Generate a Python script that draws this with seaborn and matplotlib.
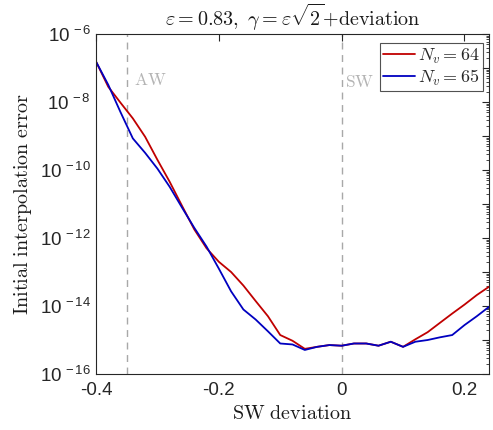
import numpy as np
import pandas as pd
import matplotlib
matplotlib.use("Agg")
import matplotlib.pyplot as plt
import seaborn as sns
from matplotlib.ticker import FixedLocator, NullFormatter
from matplotlib.lines import Line2D

sns.set_theme(style="white")
plt.rcParams["font.family"] = ["Liberation Sans", "DejaVu Sans"]
plt.rcParams["mathtext.fontset"] = "custom"
plt.rcParams["mathtext.rm"] = "Liberation Sans"
plt.rcParams["mathtext.it"] = "Liberation Sans:italic"

# SW deviation samples
deviation = [-0.40, -0.38, -0.36, -0.34, -0.32, -0.30, -0.28, -0.26, -0.24,
             -0.22, -0.20, -0.18, -0.16, -0.14, -0.12, -0.10, -0.08, -0.06,
             -0.04, -0.02, 0.00, 0.02, 0.04, 0.06, 0.08, 0.10, 0.12, 0.14,
             0.16, 0.18, 0.20, 0.22, 0.24]

# initial interpolation error, N_v = 64
err_64 = [1.55e-7, 2.8e-8, 9.5e-9, 3.3e-9, 9.5e-10, 2.0e-10, 4.5e-11, 8.9e-12,
          1.8e-12, 5.0e-13, 2.0e-13, 1.0e-13, 4.0e-14, 1.4e-14, 5.0e-15,
          1.4e-15, 9.5e-16, 5.5e-16, 6.3e-16, 7.1e-16, 6.8e-16, 7.9e-16,
          7.9e-16, 6.8e-16, 8.9e-16, 6.3e-16, 1.05e-15, 1.7e-15, 3.2e-15,
          6.0e-15, 1.1e-14, 2.1e-14, 3.7e-14]

# initial interpolation error, N_v = 65
err_65 = [1.55e-7, 3.2e-8, 5.0e-9, 8.5e-10, 3.2e-10, 1.1e-10, 3.2e-11, 7.9e-12,
          2.0e-12, 5.6e-13, 1.26e-13, 2.7e-14, 7.9e-15, 4.0e-15, 1.8e-15,
          7.9e-16, 7.4e-16, 5.1e-16, 6.3e-16, 7.1e-16, 6.8e-16, 7.9e-16,
          7.9e-16, 6.8e-16, 8.9e-16, 6.3e-16, 8.9e-16, 1.0e-15, 1.2e-15,
          1.4e-15, 2.75e-15, 5.0e-15, 9.5e-15]

series_labels = [r"$N_v = 64$", r"$N_v = 65$"]
series_colors = ["#c00000", "#0000c0"]

x_ticks = [-0.4, -0.2, 0.0, 0.2]
x_tick_labels = ["-0.4", "-0.2", "0", "0.2"]
y_exponents = [-16, -14, -12, -10, -8, -6]

aw_x = -0.35
sw_x = 0.0

df = pd.DataFrame({
    "SW deviation": deviation * 2,
    "error": err_64 + err_65,
    "case": [series_labels[0]] * len(deviation) + [series_labels[1]] * len(deviation),
})

axis_color = "#262626"
fig = plt.figure(figsize=(4.93, 4.30), dpi=100)
ax = fig.add_axes([0.1947, 0.1302, 0.7973, 0.7907])

sns.lineplot(data=df, x="SW deviation", y="error", hue="case",
             palette=series_colors, linewidth=1.3, ax=ax, legend=False)
ax.set_yscale("log")
ax.set_xlim(-0.4, 0.24)
ax.set_ylim(1e-16, 1e-6)

guide = "#a8a8a8"
for xv in (aw_x, sw_x):
    ax.axvline(xv, color=guide, linestyle=(0, (5, 4)), linewidth=1.0, zorder=0)

ax.text(aw_x + 0.012, 10 ** -7.34, r"$\mathrm{AW}$", color="#b4b4b4",
        fontsize=12.5, math_fontfamily="cm", ha="left", va="center")
ax.text(sw_x + 0.006, 10 ** -7.4, r"$\mathrm{SW}$", color="#b4b4b4",
        fontsize=12.5, math_fontfamily="cm", ha="left", va="center")

# ticks
ax.xaxis.set_major_locator(FixedLocator(x_ticks))
ax.set_xticklabels(x_tick_labels)
ax.yaxis.set_major_locator(FixedLocator([10.0 ** e for e in range(-16, -5)]))
ax.set_yticklabels([r"$\mathregular{10^{\,%d}}$" % e if e in y_exponents else ""
                    for e in range(-16, -5)])
minor = [m * 10.0 ** e for e in range(-16, -6) for m in range(2, 10)]
ax.yaxis.set_minor_locator(FixedLocator(minor))
ax.yaxis.set_minor_formatter(NullFormatter())
ax.tick_params(axis="both", which="both", direction="in", top=True, right=True,
               colors=axis_color, labelcolor=axis_color, labelsize=13.5)
ax.tick_params(axis="both", which="major", length=5, width=0.8)
ax.tick_params(axis="y", which="minor", length=2.5, width=0.6)
ax.tick_params(axis="x", which="minor", length=0)
ax.tick_params(axis="x", pad=6)

for s in ax.spines.values():
    s.set_color(axis_color)
    s.set_linewidth(0.8)

ax.set_xlabel(r"$\mathrm{SW\ deviation}$", fontsize=14.5, math_fontfamily="cm",
              color="#1a1a1a", labelpad=3)
ax.set_ylabel(r"$\mathrm{Initial\ interpolation\ error}$", fontsize=14.5,
              math_fontfamily="cm", color="#1a1a1a", labelpad=4)
ax.set_title(r"$\varepsilon = 0.83,\ \gamma = \varepsilon\sqrt{2}\mathrm{+deviation}$",
             fontsize=14.5, math_fontfamily="cm", color="#1a1a1a", pad=6)

handles = [Line2D([], [], color=c, linewidth=1.3) for c in series_colors]
leg = ax.legend(handles, series_labels, loc="upper right",
                bbox_to_anchor=(0.9847, 0.9735), borderaxespad=0.0,
                frameon=True, fancybox=False, borderpad=0.2, labelspacing=0.1,
                handlelength=1.75, handletextpad=0.15,
                prop={"math_fontfamily": "cm", "size": 13})
leg.get_frame().set_edgecolor(axis_color)
leg.get_frame().set_linewidth(0.8)

fig.savefig("out.png", dpi=100)
